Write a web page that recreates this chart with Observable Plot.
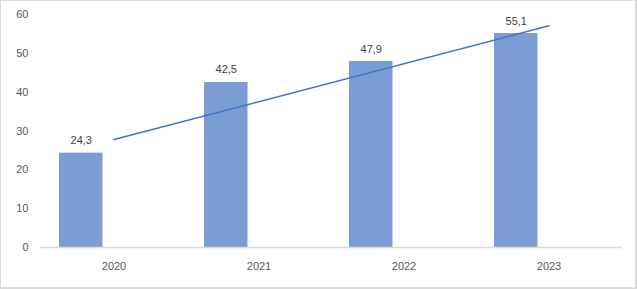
<!DOCTYPE html>
<html>
<head>
<meta charset="utf-8">
<script src="https://cdn.jsdelivr.net/npm/d3@7"></script>
<script src="https://cdn.jsdelivr.net/npm/@observablehq/plot@0.6"></script>
<style>
  html, body { margin: 0; padding: 0; background: #fff; }
  #wrap { position: relative; width: 637px; height: 289px; }
  #border { position: absolute; left: 0; top: 0; width: 637px; height: 289px; box-sizing: border-box; border: 1px solid #d9d9d9; border-right-width: 2px; border-bottom-width: 2px; pointer-events: none; }
  svg { display: block; }
</style>
</head>
<body>
<div id="wrap"><div id="border"></div></div>
<script>
const years = ["2020", "2021", "2022", "2023"];
const values = [24.3, 42.5, 47.9, 55.1];
const trendYears = ["2020", "2023"];
const trendValues = [27.8, 57.1];
const yTicks = [0, 10, 20, 30, 40, 50, 60];

const data = years.map((y, i) => ({year: y, value: values[i]}));
const trend = trendYears.map((y, i) => ({year: y, value: trendValues[i]}));
const fmt = v => v.toFixed(1).replace(".", ",");
const font = "'Liberation Sans', Arial, sans-serif";

const chart = Plot.plot({
  width: 637,
  height: 289,
  marginLeft: 40,
  marginRight: 15,
  marginTop: 14,
  marginBottom: 42,
  style: {fontFamily: font, fontSize: "11px", color: "#595959", background: "transparent"},
  x: {domain: years, padding: 0, label: null, tickSize: 0, tickPadding: 15},
  y: {domain: [0, 60], ticks: yTicks, label: null, tickSize: 0, tickPadding: 12},
  marks: [
    Plot.barY(data, {x: "year", y: "value", fill: "#7b9dd6", insetLeft: 18, insetRight: 83.5}),
    Plot.ruleY([0], {stroke: "#d9d9d9", strokeWidth: 1.5}),
    Plot.line(trend, {x: "year", y: "value", stroke: "#4472c4", strokeWidth: 1.5}),
    Plot.text(data, {x: "year", y: "value", text: d => fmt(d.value), dx: -32.75, dy: -12.5, fill: "#404040", fontSize: 11})
  ]
});
document.getElementById("wrap").prepend(chart);
</script>
</body>
</html>
